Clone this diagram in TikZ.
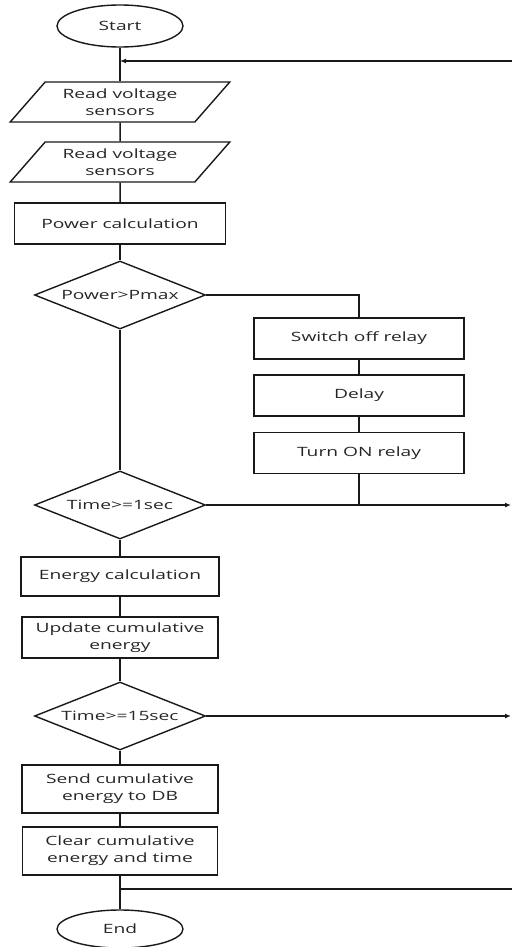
\documentclass[tikz,border=0pt]{standalone}
\usepackage{fontspec}
\setmainfont{Open Sans}[FakeStretch=1.5]
\usetikzlibrary{shapes.geometric,arrows.meta}
\begin{document}
\begin{tikzpicture}[x=1pt,y=-1pt,
  every node/.style={font=\fontsize{12.8}{17}\selectfont, text=black!85},
  shp/.style={draw=black!90, line width=1.4pt, inner sep=0pt, align=center},
  proc/.style={shp, rectangle},
  io/.style={shp, trapezium, trapezium left angle=45, trapezium right angle=135,
     trapezium stretches=true, minimum width=220pt, minimum height=40pt},
  dec/.style={shp, diamond, aspect=2.5, minimum width=171pt, minimum height=68pt},
  term/.style={shp, ellipse, minimum width=126pt, minimum height=42pt},
  conn/.style={draw=black!90, line width=1.5pt},
  arr/.style={conn, -{Latex[length=6pt,width=5pt]}}]
\useasboundingbox (0,0) rectangle (512,947);
% main column
\node[term] (start) at (120,26) {Start};
\node[io] (p1) at (120,102) {Read voltage\\sensors};
\node[io] (p2) at (120,162) {Read voltage\\sensors};
\node[proc, minimum width=211pt, minimum height=41pt] (pc) at (120,223.5) {Power calculation};
\node[dec] (d1) at (120,295) {Power>Pmax};
\node[dec] (d2) at (120,505) {Time>=1sec};
\node[proc, minimum width=198pt, minimum height=39pt] (ec) at (120,576.5) {Energy calculation};
\node[proc, minimum width=196pt, minimum height=41pt] (uc) at (120,637.5) {Update cumulative\\energy};
\node[dec] (d3) at (120,716) {Time>=15sec};
\node[proc, minimum width=196pt, minimum height=48pt] (sd) at (120,789) {Send cumulative\\energy to DB};
\node[proc, minimum width=195pt, minimum height=48pt] (cl) at (120,851) {Clear cumulative\\energy and time};
\node[term, minimum height=38pt] (end) at (120,929) {End};
% right column
\node[proc, minimum width=210pt, minimum height=41pt] (sw) at (359,338.5) {Switch off relay};
\node[proc, minimum width=210pt, minimum height=41pt] (dl) at (359,395.5) {Delay};
\node[proc, minimum width=210pt, minimum height=41pt] (on) at (359,453) {Turn ON relay};
% junctions and free ends
\coordinate (j1) at (120,61);
\coordinate (r1) at (512,61);
\coordinate (r2) at (511,505);
\coordinate (r3) at (511,716);
\coordinate (j4) at (120,889);
\coordinate (r4) at (512,889);
% connectors
\draw[conn] (start) -- (p1);
\draw[arr] (r1) -- (j1);
\draw[conn] (p1) -- (p2);
\draw[conn] (p2) -- (pc);
\draw[conn] (pc) -- (d1);
\draw[conn] (d1) -- (d2);
\draw[conn] (d1.east) -| (sw.north);
\draw[conn] (sw) -- (dl);
\draw[conn] (dl) -- (on);
\draw[conn] (on.south) -- (on.south |- d2.east);
\draw[arr] (d2.east) -- (r2);
\draw[conn] (d2) -- (ec);
\draw[conn] (ec) -- (uc);
\draw[conn] (uc) -- (d3);
\draw[arr] (d3.east) -- (r3);
\draw[conn] (d3) -- (sd);
\draw[conn] (sd) -- (cl);
\draw[conn] (cl) -- (end);
\draw[conn] (j4) -- (r4);
\end{tikzpicture}
\end{document}
